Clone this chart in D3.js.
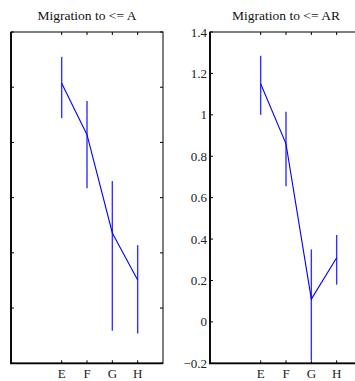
<!DOCTYPE html>
<html>
<head>
<meta charset="utf-8">
<script src="https://cdn.jsdelivr.net/npm/d3@7"></script>
<style>
  body { margin: 0; background: #fff; }
  svg { display: block; font-family: "Liberation Serif", "Times New Roman", serif; }
</style>
</head>
<body>
<svg id="chart"></svg>
<script>
const categories = ['E', 'F', 'G', 'H'];

// left panel (no y tick labels in the original)
const leftTitle = 'Migration to <= A';
const leftMean = [5.07, 4.14, 2.36, 1.51];
const leftUpper = [5.55, 4.75, 3.30, 2.14];
const leftLower = [4.44, 3.17, 0.59, 0.54];
const leftTicks = [0, 1, 2, 3, 4, 5, 6];

// right panel
const rightTitle = 'Migration to <= AR';
const rightMean = [1.15, 0.86, 0.11, 0.31];
const rightUpper = [1.285, 1.015, 0.35, 0.42];
const rightLower = [1.0, 0.655, -0.185, 0.18];
const rightTicks = [-0.2, 0, 0.2, 0.4, 0.6, 0.8, 1, 1.2, 1.4];

const svgWidth = 355;
const svgHeight = 381;
const plotTop = 32, plotBottom = 363.3, panelW = 152;

const svg = d3.select('#chart')
  .attr('width', svgWidth)
  .attr('height', svgHeight);

function drawPanel(x0, title, mean, upper, lower, ticks, showLabels) {
  const x = d3.scaleLinear().domain([-1, 5]).range([x0, x0 + panelW]);
  const y = d3.scaleLinear().domain([ticks[0], ticks[ticks.length - 1]]).range([plotBottom, plotTop]);
  const g = svg.append('g');

  // frame
  g.append('rect')
    .attr('x', x0).attr('y', plotTop)
    .attr('width', panelW).attr('height', plotBottom - plotTop)
    .attr('fill', 'none').attr('stroke', '#000').attr('stroke-width', 1);
  // heavier left and bottom axes
  g.append('path')
    .attr('d', `M${x0},${plotTop}V${plotBottom}H${x0 + panelW}`)
    .attr('fill', 'none').attr('stroke', '#000').attr('stroke-width', 1.8);

  // y ticks on both sides
  ticks.forEach(t => {
    const yy = y(t);
    g.append('line').attr('x1', x0).attr('x2', x0 + 3).attr('y1', yy).attr('y2', yy)
      .attr('stroke', '#000');
    g.append('line').attr('x1', x0 + panelW).attr('x2', x0 + panelW - 3).attr('y1', yy).attr('y2', yy)
      .attr('stroke', '#000');
    if (showLabels) {
      g.append('text')
        .attr('x', x0 - 3).attr('y', yy)
        .attr('dy', '0.35em')
        .attr('text-anchor', 'end')
        .attr('font-size', 13)
        .attr('fill', '#222')
        .text(d3.format('~g')(t));
    }
  });

  // x ticks top and bottom with labels
  categories.forEach((c, i) => {
    const xx = x(i + 1);
    g.append('line').attr('x1', xx).attr('x2', xx).attr('y1', plotBottom).attr('y2', plotBottom - 3)
      .attr('stroke', '#000');
    g.append('line').attr('x1', xx).attr('x2', xx).attr('y1', plotTop).attr('y2', plotTop + 3)
      .attr('stroke', '#000');
    g.append('text')
      .attr('x', xx).attr('y', 378)
      .attr('text-anchor', 'middle')
      .attr('font-size', 13)
      .attr('fill', '#222')
      .text(c);
  });

  // error bars
  categories.forEach((c, i) => {
    const xx = x(i + 1);
    g.append('line')
      .attr('x1', xx).attr('x2', xx)
      .attr('y1', y(lower[i])).attr('y2', y(upper[i]))
      .attr('stroke', '#3333ff').attr('stroke-width', 1.4);
  });

  // mean line
  const line = d3.line()
    .x((d, i) => x(i + 1))
    .y(d => y(d));
  g.append('path')
    .datum(mean)
    .attr('d', line)
    .attr('fill', 'none')
    .attr('stroke', '#0000ff')
    .attr('stroke-width', 1.1);

  // title
  g.append('text')
    .attr('x', x0 + panelW / 2).attr('y', 20)
    .attr('text-anchor', 'middle')
    .attr('font-size', 13.5)
    .attr('fill', '#111')
    .text(title);
}

drawPanel(11, leftTitle, leftMean, leftUpper, leftLower, leftTicks, false);
drawPanel(210, rightTitle, rightMean, rightUpper, rightLower, rightTicks, true);
</script>
</body>
</html>
